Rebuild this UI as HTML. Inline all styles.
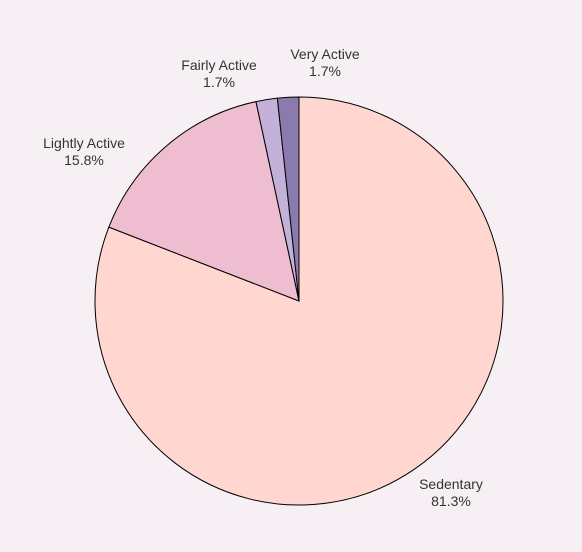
<!DOCTYPE html>
<html><head><meta charset="utf-8"><style>
body{margin:0;background:#f6f0f4;}
svg{display:block;font-family:"Liberation Sans",sans-serif;}
</style></head><body>
<svg id="chart" width="582" height="552" viewBox="0 0 582 552">
<rect width="582" height="552" fill="#f6f0f4"/>
<g id="slices"></g><g id="labels"></g>
</svg>
<script>
const categories=["Sedentary","Lightly Active","Fairly Active","Very Active"];
const values=[81.3,15.8,1.7,1.7];
const valueLabels=["81.3%","15.8%","1.7%","1.7%"];
const colors=["#ffd6d0","#efbdd0","#c4b1d9","#8b7aae"];
const cx=299,cy=301,r=204;
const ns="http://www.w3.org/2000/svg";
const total=values.reduce((a,b)=>a+b,0);
const gS=document.getElementById('slices'),gL=document.getElementById('labels');
function pt(a,rr){return [cx+rr*Math.sin(a),cy-rr*Math.cos(a)];}
let start=0;
const labelPos=[[451,489],[84,148],[219,70],[325,59]];
values.forEach((v,i)=>{
  const a0=start/total*2*Math.PI,a1=(start+v)/total*2*Math.PI;start+=v;
  const p0=pt(a0,r),p1=pt(a1,r);
  const large=(a1-a0)>Math.PI?1:0;
  const p=document.createElementNS(ns,'path');
  p.setAttribute('d',`M${cx},${cy}L${p0[0]},${p0[1]}A${r},${r} 0 ${large} 1 ${p1[0]},${p1[1]}Z`);
  p.setAttribute('fill',colors[i]);p.setAttribute('stroke','#000');p.setAttribute('stroke-width','1');
  
  
  gS.appendChild(p);
  const [lx,ly]=labelPos[i];
  const t=document.createElementNS(ns,'text');
  t.setAttribute('x',lx);t.setAttribute('y',ly);t.setAttribute('text-anchor','middle');
  t.setAttribute('font-size','14');t.setAttribute('fill','#333');
  
  
  const s1=document.createElementNS(ns,'tspan');s1.setAttribute('x',lx);s1.textContent=categories[i];
  const s2=document.createElementNS(ns,'tspan');s2.setAttribute('x',lx);s2.setAttribute('dy','17');s2.textContent=valueLabels[i];
  t.appendChild(s1);t.appendChild(s2);gL.appendChild(t);
});
</script>
</body></html>
